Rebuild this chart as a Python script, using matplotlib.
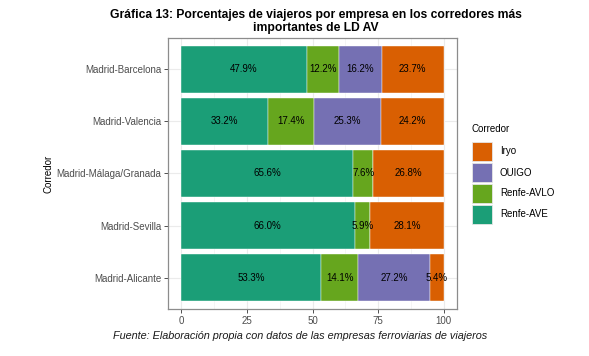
import numpy as np
import matplotlib
matplotlib.use("Agg")
import matplotlib.pyplot as plt
from matplotlib.patches import Rectangle

plt.rcParams['font.family'] = ['Liberation Sans', 'DejaVu Sans']

corredores = ["Madrid-Barcelona", "Madrid-Valencia", "Madrid-Málaga/Granada",
              "Madrid-Sevilla", "Madrid-Alicante"]
empresas = ["Renfe-AVE", "Renfe-AVLO", "OUIGO", "Iryo"]
renfe_ave = [47.9, 33.2, 65.6, 66.0, 53.3]
renfe_avlo = [12.2, 17.4, 7.6, 5.9, 14.1]
ouigo = [16.2, 25.3, 0.0, 0.0, 27.2]
iryo = [23.7, 24.2, 26.8, 28.1, 5.4]
colores = {"Renfe-AVE": "#1B9E77", "Renfe-AVLO": "#66A61E",
           "OUIGO": "#7570B3", "Iryo": "#D95F02"}

W, H = 589, 356
fig = plt.figure(figsize=(W / 100, H / 100), dpi=100)
# panel position in pixels (left, top, right, bottom)
pl, pt, pr, pb = 168, 38, 457, 309
ax = fig.add_axes([pl / W, 1 - pb / H, (pr - pl) / W, (pb - pt) / H])

y = np.arange(len(corredores))
left = np.zeros(len(corredores))
for emp, vals in zip(empresas, [renfe_ave, renfe_avlo, ouigo, iryo]):
    vals = np.array(vals)
    ax.barh(y, vals, left=left, height=0.9, color=colores[emp],
            edgecolor='white', linewidth=0.3, zorder=2)
    for yi, l, v in zip(y, left, vals):
        if v > 0:
            ax.text(l + v / 2, yi, f"{v:.1f}%", ha='center', va='center',
                    fontsize=7, color='black', zorder=3)
    left = left + vals

ax.set_xlim(-5, 105)
ax.set_ylim(len(corredores) - 1 + 0.6, -0.6)
ax.set_xticks([0, 25, 50, 75, 100])
ax.set_xticks([12.5, 37.5, 62.5, 87.5], minor=True)
ax.set_yticks(y)
ax.set_yticklabels(corredores)
ax.tick_params(axis='both', which='major', labelsize=7, labelcolor='#4D4D4D',
               color='#333333', length=3, width=0.6, pad=2)
ax.tick_params(axis='both', which='minor', length=0)
ax.grid(True, which='major', color='#EBEBEB', linewidth=0.8, zorder=0)
ax.grid(True, which='minor', axis='x', color='#F2F2F2', linewidth=0.5, zorder=0)
ax.set_axisbelow(True)
for s in ax.spines.values():
    s.set_color('#8C8C8C')
    s.set_linewidth(0.9)

fig.text(48 / W, 1 - 174 / H, "Corredor", rotation=90, ha='center',
         va='center', fontsize=7, color='black')

# title, two lines
titulo = ["Gráfica 13: Porcentajes de viajeros por empresa en los corredores más",
          "importantes de LD AV"]
for linea, base in zip(titulo, [18, 30.5]):
    fig.text(316 / W, 1 - base / H, linea, ha='center', va='baseline',
             fontsize=8.75, fontweight='bold')

fig.text(300 / W, 1 - 336 / H,
         "Fuente: Elaboración propia con datos de las empresas ferroviarias de viajeros",
         ha='center', va='center', fontsize=7.8, style='italic', color='#1A1A1A')

# legend (ggplot style keys)
fig.text(472 / W, 1 - 129 / H, "Corredor", ha='left', va='center',
         fontsize=7, color='black')
for i, emp in enumerate(empresas[::-1]):
    top = 142 + i * 21
    fig.add_artist(Rectangle((472 / W, 1 - (top + 19) / H), 20 / W, 19 / H,
                             transform=fig.transFigure, facecolor=colores[emp],
                             edgecolor='#E6E6E6', linewidth=0.6))
    fig.text(500 / W, 1 - (top + 9.5) / H, emp, ha='left', va='center',
             fontsize=7, color='black')

fig.savefig("out.png", dpi=100)
